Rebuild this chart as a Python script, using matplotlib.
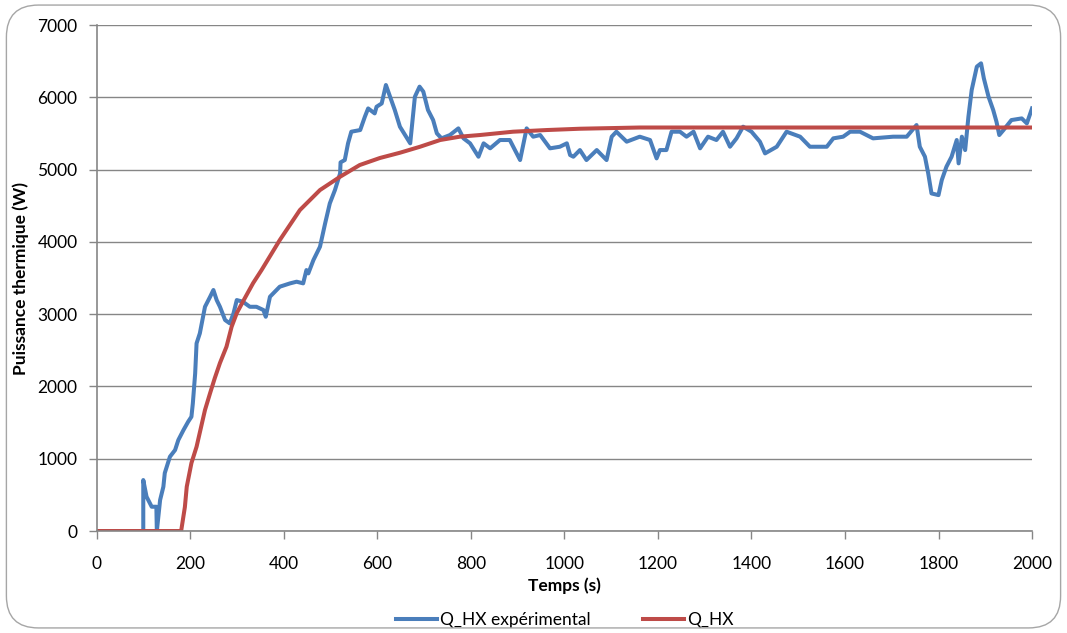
import matplotlib
matplotlib.use("Agg")
import matplotlib.pyplot as plt
from matplotlib.patches import FancyBboxPatch

# Q_HX expérimental (mesure)
t_exp = [0, 99, 99, 106, 117, 127, 128, 135, 142, 145, 156, 167, 174, 185, 195, 202,
         205, 210, 213, 220, 227, 231, 242, 249, 256, 263, 274, 284, 292, 299, 312,
         327, 341, 356, 361, 370, 391, 413, 427, 441, 448, 452, 463, 477, 488, 498,
         509, 520, 521, 530, 537, 544, 563, 573, 580, 594, 598, 609, 618, 627, 637,
         648, 659, 670, 675, 680, 690, 698, 708, 719, 727, 737, 755, 773, 784, 798,
         816, 827, 841, 862, 883, 905, 919, 933, 948, 969, 990, 1005, 1012, 1019,
         1033, 1047, 1069, 1090, 1101, 1111, 1133, 1161, 1183, 1197, 1204, 1218,
         1229, 1247, 1261, 1276, 1290, 1307, 1325, 1339, 1354, 1368, 1382, 1400,
         1418, 1429, 1454, 1475, 1504, 1525, 1561, 1575, 1596, 1611, 1632, 1660,
         1703, 1732, 1753, 1760, 1771, 1778, 1785, 1800, 1807, 1817, 1828, 1839,
         1843, 1850, 1857, 1864, 1871, 1882, 1891, 1897, 1907, 1917, 1924, 1930,
         1939, 1956, 1978, 1989, 2000]
q_exp = [0, 0, 705, 475, 336, 336, 0, 429, 613, 802, 1028, 1120, 1259, 1397, 1512, 1581,
         1765, 2181, 2596, 2735, 2964, 3102, 3241, 3334, 3195, 3102, 2919, 2873,
         3011, 3195, 3172, 3102, 3102, 3057, 2964, 3241, 3380, 3426, 3449, 3426,
         3610, 3564, 3749, 3933, 4256, 4532, 4717, 4947, 5100, 5132, 5363, 5524,
         5547, 5731, 5846, 5777, 5869, 5915, 6170, 6008, 5824, 5593, 5478, 5363,
         5685, 6008, 6147, 6078, 5824, 5685, 5501, 5432, 5478, 5570, 5432, 5363,
         5178, 5363, 5294, 5409, 5409, 5132, 5570, 5455, 5478, 5294, 5316, 5363,
         5201, 5178, 5270, 5132, 5270, 5132, 5455, 5524, 5386, 5455, 5409, 5155,
         5270, 5270, 5524, 5524, 5455, 5524, 5294, 5455, 5409, 5524, 5316, 5432,
         5593, 5524, 5386, 5224, 5316, 5524, 5455, 5316, 5316, 5432, 5455, 5524,
         5524, 5432, 5455, 5455, 5616, 5316, 5178, 4947, 4670, 4647, 4855, 5040,
         5178, 5409, 5086, 5455, 5270, 5731, 6101, 6424, 6470, 6262, 6008, 5824,
         5662, 5478, 5547, 5685, 5708, 5639, 5846]

# Q_HX (modèle)
t_mod = [0, 180, 188, 192, 202, 213, 231, 242, 252, 263, 277, 288, 299, 312, 334,
         352, 391, 434, 477, 520, 562, 605, 648, 691, 734, 776, 819, 890, 962,
         1033, 1161, 2000]
q_mod = [0, 0, 332, 613, 940, 1166, 1674, 1909, 2116, 2324, 2550, 2826, 3015, 3172,
         3430, 3610, 4025, 4440, 4717, 4901, 5063, 5160, 5233, 5316, 5409, 5455,
         5478, 5524, 5547, 5565, 5582, 5582]

x_ticks = list(range(0, 2001, 200))
y_ticks = list(range(0, 7001, 1000))

plt.rcParams['font.family'] = ['Lato', 'DejaVu Sans']

fig = plt.figure(figsize=(10.67, 6.33), dpi=100)
ax = fig.add_axes([0.0909, 0.1611, 0.8763, 0.7994])

# cadre arrondi autour du graphique
frame = FancyBboxPatch((0.006, 0.008), 0.988, 0.984, boxstyle="round,pad=0,rounding_size=0.03",
                       transform=fig.transFigure, facecolor='none', edgecolor='#a6a6a6',
                       linewidth=1.0, mutation_aspect=10.67 / 6.33)
fig.patches.append(frame)

ax.plot(t_exp, q_exp, color='#4a7ebb', linewidth=2.9, label='Q_HX expérimental',
        solid_joinstyle='round')
ax.plot(t_mod, q_mod, color='#be4b48', linewidth=2.9, label='Q_HX')

ax.set_xlim(0, 2000)
ax.set_ylim(0, 7000)
ax.set_xticks(x_ticks)
ax.set_yticks(y_ticks)
ax.tick_params(axis='both', labelsize=12.5, direction='out', length=6, color='#868686', width=1)
ax.tick_params(axis='x', pad=12)
ax.tick_params(axis='y', pad=8)
ax.grid(axis='y', color='#868686', linewidth=1)
ax.set_axisbelow(True)
for side in ['top', 'right']:
    ax.spines[side].set_visible(False)
for side in ['left', 'bottom']:
    ax.spines[side].set_color('#868686')
    ax.spines[side].set_linewidth(1.2)

ax.set_xlabel('Temps (s)', fontsize=12.5, fontweight='bold', labelpad=4)
ax.set_ylabel('Puissance thermique (W)', fontsize=12.5, fontweight='bold', labelpad=6)

ax.legend(loc='upper center', bbox_to_anchor=(0.5, -0.13), ncol=2, frameon=False,
          fontsize=12.5, handlelength=2.4, columnspacing=3.0, handletextpad=0.15)

fig.savefig('out.png', dpi=100)
